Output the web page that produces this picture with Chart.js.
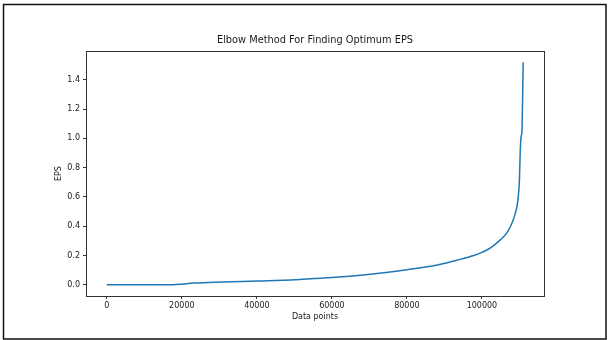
<!DOCTYPE html>
<html>
<head>
<meta charset="utf-8">
<script src="https://cdn.jsdelivr.net/npm/chart.js@4.4.1/dist/chart.umd.min.js"></script>
<style>
  html, body { margin: 0; padding: 0; background: #fff; }
  #wrap { width: 608px; height: 340px; position: relative; }
</style>
</head>
<body>
<div id="wrap"><canvas id="c" width="608" height="340"></canvas></div>
<script>
// Sorted k-distance curve: index of the point (sorted) vs its distance
const pointIndex = [0, 17500, 20000, 23000, 27000, 33000, 40000, 49000, 52000, 60000, 67000, 75000,
  80000, 84500, 89000, 93300, 97800, 100000, 102200, 104900, 106600, 108000, 108900, 109600,
  110000, 110200, 110400, 110600, 110700, 111000];
const epsValues = [0, 0.001, 0.005, 0.012, 0.016, 0.021, 0.026, 0.034, 0.038, 0.05, 0.064, 0.086,
  0.103, 0.12, 0.141, 0.168, 0.2, 0.222, 0.25, 0.307, 0.353, 0.42, 0.49, 0.58,
  0.717, 0.9, 1.0, 1.03, 1.06, 1.52];
const xTickValues = [0, 20000, 40000, 60000, 80000, 100000];
const yTickValues = [0.0, 0.2, 0.4, 0.6, 0.8, 1.0, 1.2, 1.4];

const titleText = 'Elbow Method For Finding Optimum EPS';
const xLabel = 'Data points';
const yLabel = 'EPS';

const FONT = 'DejaVu Sans';
const TEXT = '#1a1a1a';
const AXIS = '#333333';

// 5% margins around the data range on both axes
const xMaxData = pointIndex[pointIndex.length - 1];
const yMaxData = Math.max(...epsValues);
const xPad = xMaxData * 0.05, yPad = yMaxData * 0.05;

const points = pointIndex.map((x, i) => ({ x: x, y: epsValues[i] }));

// Frame around the figure and the four spines around the plot area
const framePlugin = {
  id: 'frame',
  afterDraw(chart) {
    const ctx = chart.ctx;
    const a = chart.chartArea;
    ctx.save();
    ctx.strokeStyle = AXIS;
    ctx.lineWidth = 1;
    ctx.strokeRect(Math.round(a.left) + 0.5, Math.round(a.top) + 0.5,
      Math.round(a.right - a.left), Math.round(a.bottom - a.top));
    ctx.strokeStyle = '#111';
    ctx.lineWidth = 1.5;
    ctx.strokeRect(3.5, 4.5, 602.5, 334.5);
    ctx.restore();
  }
};

new Chart(document.getElementById('c'), {
  type: 'line',
  data: {
    datasets: [{
      data: points,
      borderColor: '#1f77b4',
      borderWidth: 1.5,
      pointRadius: 0,
      fill: false,
      cubicInterpolationMode: 'monotone'
    }]
  },
  options: {
    responsive: false,
    animation: false,
    layout: { padding: { top: 0, right: 64, left: 0, bottom: 0 } },
    plugins: {
      legend: { display: false },
      tooltip: { enabled: false },
      title: {
        display: true,
        fullSize: false,
        text: titleText,
        color: TEXT,
        font: { family: FONT, size: 9.8, weight: 'normal', lineHeight: 1.2 },
        padding: { top: 35, bottom: 4.3 }
      }
    },
    scales: {
      x: {
        type: 'linear',
        min: -xPad,
        max: xMaxData + xPad,
        afterBuildTicks: (s) => { s.ticks = xTickValues.map(v => ({ value: v })); },
        afterFit: (s) => { s.height = 44; },
        grid: { display: true, drawOnChartArea: false, drawTicks: true, tickLength: 3, color: AXIS },
        border: { display: true, color: AXIS },
        ticks: {
          color: TEXT, padding: 2, maxRotation: 0, autoSkip: false,
          font: { family: FONT, size: 8 },
          callback: (v) => String(v)
        },
        title: {
          display: true, text: xLabel, color: TEXT,
          font: { family: FONT, size: 8, lineHeight: 1.2 },
          padding: { top: 0, bottom: 18 }
        }
      },
      y: {
        type: 'linear',
        min: -yPad,
        max: yMaxData + yPad,
        afterBuildTicks: (s) => { s.ticks = yTickValues.map(v => ({ value: v })); },
        afterFit: (s) => { s.width = 86; },
        grid: { display: true, drawOnChartArea: false, drawTicks: true, tickLength: 3, color: AXIS },
        border: { display: true, color: AXIS },
        ticks: {
          color: TEXT, padding: 3, autoSkip: false,
          font: { family: FONT, size: 8 },
          callback: (v) => v.toFixed(1)
        },
        title: {
          display: true, text: yLabel, color: TEXT,
          font: { family: FONT, size: 8, lineHeight: 1.2 },
          padding: { top: 54, bottom: 0 }
        }
      }
    }
  },
  plugins: [framePlugin]
});
</script>
</body>
</html>
